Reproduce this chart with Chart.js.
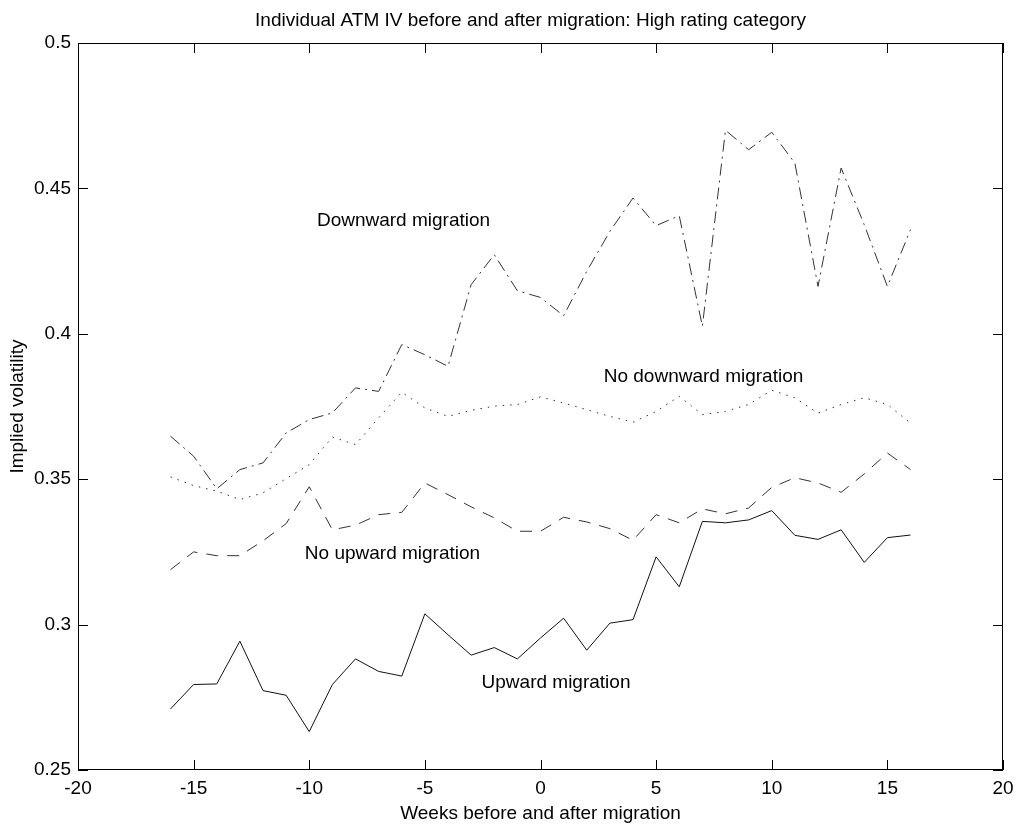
<!DOCTYPE html>
<html>
<head>
<meta charset="utf-8">
<script src="https://cdn.jsdelivr.net/npm/chart.js@4"></script>
<style>
  body { margin: 0; background: #fff; }
  #wrap { width: 1021px; height: 835px; }
</style>
</head>
<body>
<div id="wrap"><canvas id="ivChart" width="1021" height="835"></canvas></div>
<script>
'use strict';

// weeks relative to the migration date
var weeks = [-16, -15, -14, -13, -12, -11, -10, -9, -8, -7, -6, -5, -4, -3, -2, -1,
  0, 1, 2, 3, 4, 5, 6, 7, 8, 9, 10, 11, 12, 13, 14, 15, 16];

// implied volatility per group
var upward = [0.2710, 0.2794, 0.2796, 0.2943, 0.2773, 0.2757, 0.2632, 0.2794, 0.2882,
  0.2839, 0.2823, 0.3037, 0.2965, 0.2895, 0.2921, 0.2882, 0.2954, 0.3022, 0.2912,
  0.3005, 0.3017, 0.3233, 0.3130, 0.3355, 0.3350, 0.3360, 0.3392, 0.3307, 0.3293,
  0.3326, 0.3214, 0.3299, 0.3308];
var noUpward = [0.3189, 0.3250, 0.3237, 0.3237, 0.3288, 0.3347, 0.3474, 0.3326, 0.3342,
  0.3378, 0.3386, 0.3487, 0.3447, 0.3405, 0.3367, 0.3321, 0.3321, 0.3369, 0.3353,
  0.3330, 0.3290, 0.3378, 0.3350, 0.3398, 0.3381, 0.3401, 0.3472, 0.3505, 0.3487,
  0.3455, 0.3518, 0.3590, 0.3533];
var noDownward = [0.3508, 0.3478, 0.3459, 0.3430, 0.3453, 0.3502, 0.3550, 0.3645, 0.3619,
  0.3711, 0.3799, 0.3745, 0.3716, 0.3737, 0.3751, 0.3757, 0.3783, 0.3762, 0.3739,
  0.3716, 0.3696, 0.3733, 0.3785, 0.3722, 0.3733, 0.3757, 0.3806, 0.3780, 0.3727,
  0.3757, 0.3780, 0.3757, 0.3693];
var downward = [0.3648, 0.3579, 0.3467, 0.3533, 0.3556, 0.3659, 0.3705, 0.3728, 0.3814,
  0.3802, 0.3963, 0.3928, 0.3888, 0.4169, 0.4272, 0.4148, 0.4125, 0.4062, 0.4215,
  0.4352, 0.4467, 0.4372, 0.4406, 0.4026, 0.4700, 0.4633, 0.4693, 0.4587, 0.4163,
  0.4570, 0.4375, 0.4163, 0.4358];

var xTicks = [-20, -15, -10, -5, 0, 5, 10, 15, 20];
var yTicks = [0.25, 0.3, 0.35, 0.4, 0.45, 0.5];

var titleText = 'Individual ATM IV before and after migration: High rating category';
var xTitle = 'Weeks before and after migration';
var yTitle = 'Implied volatility';

var FONT = '"Liberation Sans", Arial, sans-serif';

function toPoints(arr) {
  return weeks.map(function (w, i) { return { x: w, y: arr[i] }; });
}

function lineSet(label, arr, dash, color) {
  return {
    label: label,
    data: toPoints(arr),
    borderColor: color,
    borderWidth: 1,
    borderDash: dash,
    pointRadius: 0,
    tension: 0,
    fill: false
  };
}

// frame, inward ticks, titles and in-plot labels
var decorPlugin = {
  id: 'decor',
  afterDraw: function (chart) {
    var ctx = chart.ctx;
    var a = chart.chartArea;
    var xs = chart.scales.x;
    var ys = chart.scales.y;
    ctx.save();
    ctx.strokeStyle = '#000';
    ctx.lineWidth = 1;
    ctx.strokeRect(a.left + 0.5, a.top + 0.5, a.right - a.left - 1, a.bottom - a.top - 1);

    ctx.beginPath();
    xTicks.forEach(function (v) {
      var px = Math.round(xs.getPixelForValue(v)) + 0.5;
      ctx.moveTo(px, a.bottom); ctx.lineTo(px, a.bottom - 10);
      ctx.moveTo(px, a.top); ctx.lineTo(px, a.top + 10);
    });
    yTicks.forEach(function (v) {
      var py = Math.round(ys.getPixelForValue(v)) + 0.5;
      ctx.moveTo(a.left, py); ctx.lineTo(a.left + 10, py);
      ctx.moveTo(a.right, py); ctx.lineTo(a.right - 10, py);
    });
    ctx.stroke();

    ctx.fillStyle = '#000';
    ctx.font = '19px ' + FONT;
    ctx.textAlign = 'center';
    ctx.textBaseline = 'middle';
    ctx.fillText(titleText, 530.5, 21);
    ctx.fillText(xTitle, (a.left + a.right) / 2, 814);

    ctx.fillText('Downward migration', 403.5, 221);
    ctx.fillText('No downward migration', 703.5, 377);
    ctx.fillText('No upward migration', 392.5, 554);
    ctx.fillText('Upward migration', 556, 683);

    ctx.translate(18, (a.top + a.bottom) / 2);
    ctx.rotate(-Math.PI / 2);
    ctx.fillText(yTitle, 0, 0);
    ctx.restore();
  }
};

var ctx = document.getElementById('ivChart').getContext('2d');

var ivChart = new Chart(ctx, {
  type: 'line',
  data: {
    datasets: [
      lineSet('Upward migration', upward, [], '#111'),
      lineSet('No upward migration', noUpward, [12, 9], '#333'),
      lineSet('No downward migration', noDownward, [1.5, 6], '#333'),
      lineSet('Downward migration', downward, [12, 5, 2, 5], '#333')
    ]
  },
  options: {
    responsive: false,
    animation: false,
    layout: { padding: { top: 43, right: 18, left: 0, bottom: 0 } },
    plugins: {
      legend: { display: false },
      tooltip: { enabled: false },
      title: { display: false }
    },
    scales: {
      x: {
        type: 'linear',
        min: -20,
        max: 20,
        afterFit: function (scale) { scale.height = 65; },
        afterBuildTicks: function (scale) {
          scale.ticks = xTicks.map(function (v) { return { value: v }; });
        },
        grid: { display: false, drawTicks: false },
        border: { display: false },
        ticks: {
          color: '#000',
          font: { family: FONT, size: 19 },
          padding: 7,
          maxRotation: 0,
          autoSkip: false
        }
      },
      y: {
        type: 'linear',
        min: 0.25,
        max: 0.5,
        afterFit: function (scale) { scale.width = 78; },
        afterBuildTicks: function (scale) {
          scale.ticks = yTicks.map(function (v) { return { value: v }; });
        },
        grid: { display: false, drawTicks: false },
        border: { display: false },
        ticks: {
          color: '#000',
          font: { family: FONT, size: 19 },
          padding: 7,
          autoSkip: false,
          callback: function (v) { return String(+Number(v).toFixed(2)); }
        }
      }
    }
  },
  plugins: [decorPlugin]
});
</script>
</body>
</html>
